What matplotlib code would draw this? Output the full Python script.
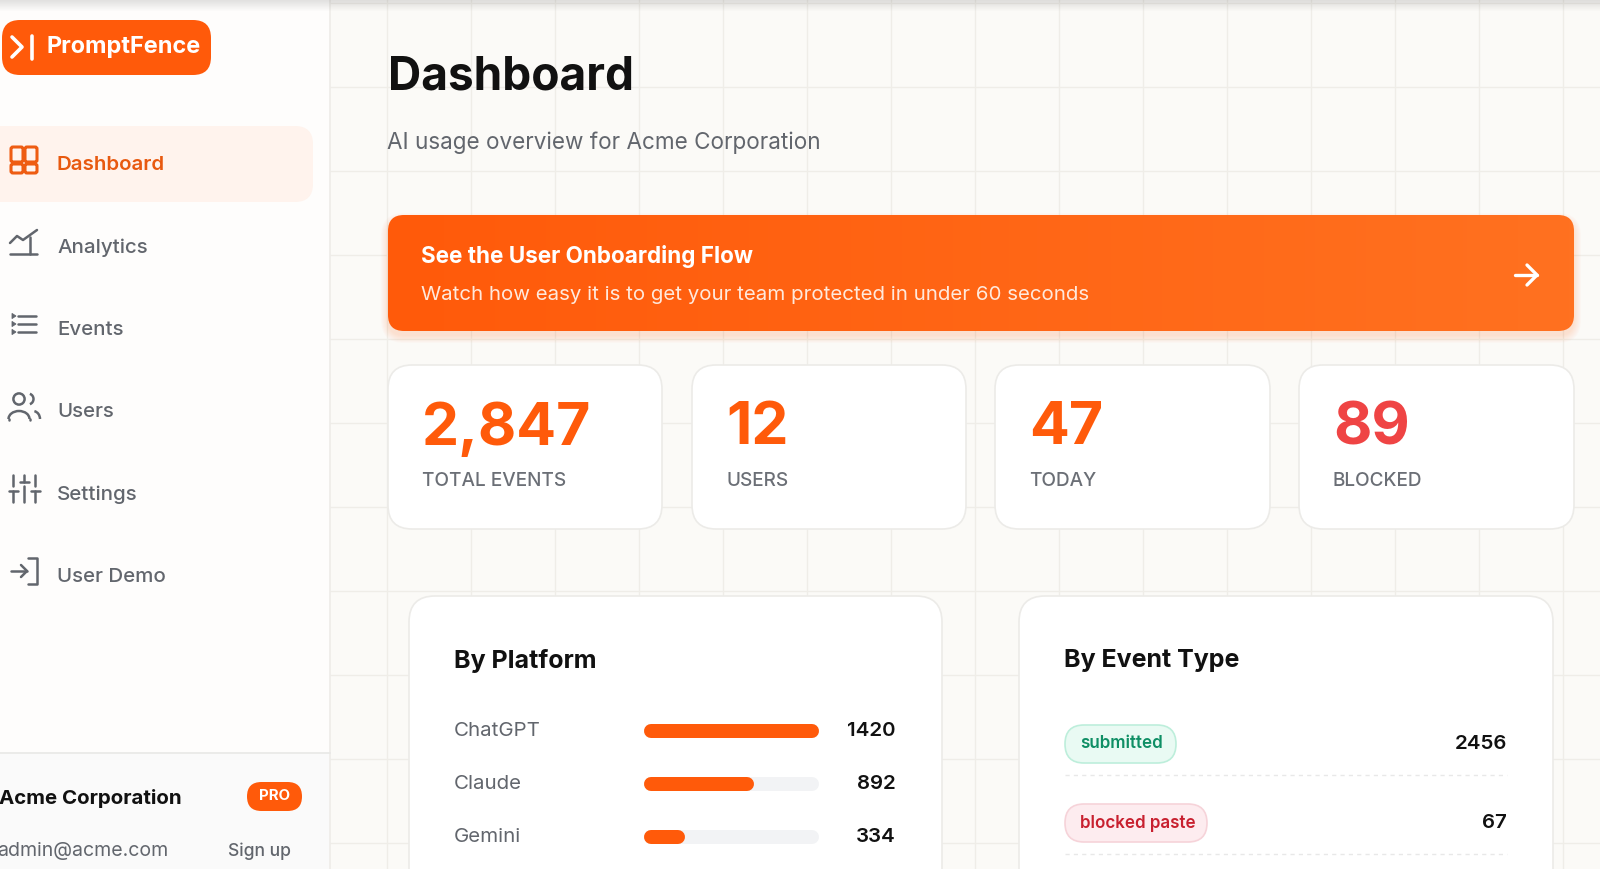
import numpy as np
import matplotlib
matplotlib.use("Agg")
import matplotlib.pyplot as plt
from matplotlib.patches import FancyBboxPatch, Circle, Arc, Polygon

plt.rcParams['font.family'] = ['Inter', 'DejaVu Sans']

# data
nav_items = ["Dashboard", "Analytics", "Events", "Users", "Settings", "User Demo"]
stat_values = ["2,847", "12", "47", "89"]
stat_labels = ["TOTAL EVENTS", "USERS", "TODAY", "BLOCKED"]
platforms = ["ChatGPT", "Claude", "Gemini"]
platform_counts = [1420, 892, 334]
event_types = ["submitted", "blocked paste"]
event_counts = [2456, 67]

ORANGE = "#ff5a0a"
GREY = "#62666d"

fig = plt.figure(figsize=(16, 8.69), dpi=100)
ax = fig.add_axes([0, 0, 1, 1])
ax.set_xlim(0, 1600)
ax.set_ylim(869, 0)
ax.axis("off")


def px(size):
    # css pixels to points
    return size * 0.72


def rbox(x0, y0, x1, y1, r, fc, ec="none", lw=1, z=2, alpha=None):
    p = FancyBboxPatch((x0, y0), x1 - x0, y1 - y0, boxstyle=f"round,pad=0,rounding_size={r}",
                       fc=fc, ec=ec, lw=lw, zorder=z, alpha=alpha)
    ax.add_patch(p)
    return p


def txt(x, y, s, size, color, weight="normal", ha="left"):
    ax.text(x, y, s, fontsize=px(size), color=color, fontweight=weight, ha=ha, va="center", zorder=6)


def line(xs, ys, color=GREY, lw=1.8):
    ax.plot(xs, ys, color=color, lw=lw, solid_capstyle="round", solid_joinstyle="round", zorder=6)


# page background and grid
ax.add_patch(plt.Rectangle((0, 0), 1600, 869, fc="#fbfaf7", ec="none", zorder=0))
for gx in np.arange(387, 1600, 84):
    ax.plot([gx, gx], [0, 869], color="#efedE8", lw=1, zorder=1)
for gy in np.arange(3, 869, 84):
    ax.plot([330, 1600], [gy, gy], color="#efedE8", lw=1, zorder=1)

# sidebar
ax.add_patch(plt.Rectangle((0, 0), 330, 869, fc="#fefdfc", ec="none", zorder=1.5))
ax.plot([330, 330], [0, 869], color="#eeece8", lw=1.2, zorder=2)
ax.add_patch(plt.Rectangle((0, 753), 330, 116, fc="#fafafa", ec="none", zorder=1.6))
ax.plot([0, 330], [753, 753], color="#e8e8e6", lw=1.2, zorder=2)

# browser shadow along the top edge
ax.imshow(np.linspace(0.16, 0, 12).reshape(-1, 1, 1) * np.array([[[0.0, 0.0, 0.0, 1.0]]]) + np.array([[[0.3, 0.3, 0.3, 0.0]]]),
          extent=(0, 1600, 12, 0), aspect="auto", zorder=5)
ax.set_xlim(0, 1600)
ax.set_ylim(869, 0)

# logo
rbox(2, 20, 211, 75, 18, ORANGE, z=3)
line([12, 22, 12], [37, 47, 57], "white", 2.6)
line([32, 32], [36, 59], "white", 2.6)
txt(46, 47, "PromptFence", 23.5, "white", "bold")

# nav
rbox(-30, 126, 313, 202, 18, "#fff3ed", z=2)
nav_y = [165, 248, 330, 412, 495, 577]
for i, (name, y) in enumerate(zip(nav_items, nav_y)):
    active = i == 0
    txt(57, y, name, 20.5, "#e8590f" if active else GREY, "semibold" if active else "medium")

# nav icons
for bx, by, bw, bh in [(11, 147, 12, 15), (25, 147, 12, 15), (11, 164, 12, 9), (25, 164, 12, 9)]:
    rbox(bx, by, bx + bw, by + bh, 2, "none", "#ee5c12", 2.2, z=6)
line([10, 37], [254, 254])
line([10, 17, 23, 37], [243, 236, 240, 230])
line([30, 30], [237, 254])
for yy in [316, 324, 332]:
    line([18, 36], [yy, yy])
    ax.add_patch(Polygon([(12, yy - 2.6), (12, yy + 2.6), (16, yy)], fc=GREY, ec=GREY, lw=0.6, zorder=6))
ax.add_patch(Circle((19, 399), 5.6, fc="none", ec=GREY, lw=1.8, zorder=6))
ax.add_patch(Arc((19, 419), 21, 16, theta1=180, theta2=360, ec=GREY, lw=1.8, zorder=6))
line([8.5, 8.5], [419, 420])
line([29.5, 29.5], [419, 420])
ax.add_patch(Arc((28, 399), 11, 11, theta1=-70, theta2=70, ec=GREY, lw=1.8, zorder=6))
ax.add_patch(Arc((33, 419), 14, 16, theta1=-80, theta2=0, ec=GREY, lw=1.8, zorder=6))
for cx, top_end, cross, bot_start in [(13, 486, 491, 491), (24, 482, 482, 486), (35, 486, 491, 491)]:
    line([cx, cx], [475, top_end])
    line([cx, cx], [bot_start, 502])
    line([cx - 4.5, cx + 4.5], [cross, cross])
line([11, 27], [571, 571])
line([21, 27, 21], [565, 571, 577])
line([28, 37, 37, 28], [558, 558, 584, 584])

# footer of sidebar
txt(-1, 798, "Acme Corporation", 20.5, "#111111", "bold")
rbox(247, 782, 302, 811, 14.5, ORANGE, z=3)
txt(274.5, 796.5, "PRO", 15, "white", "bold", ha="center")
txt(-3, 851, "admin@acme.com", 19.5, GREY)
txt(228, 851, "Sign up", 17.5, GREY, "medium")

# heading
txt(388, 78, "Dashboard", 46, "#111111", "bold")
txt(387, 143, "AI usage overview for Acme Corporation", 22.5, GREY)

# banner
for k in range(8):
    rbox(388 - k, 215 - k + 5, 1574 + k, 331 + k + 5, 16 + k, ORANGE, z=2, alpha=0.018)
banner = rbox(388, 215, 1574, 331, 16, "none", z=3)
grad = ax.imshow(np.linspace(0, 1, 256).reshape(1, -1), extent=(388, 1574, 331, 215), aspect="auto",
                 cmap=matplotlib.colors.LinearSegmentedColormap.from_list("b", [ORANGE, "#ff7120"]), zorder=3)
grad.set_clip_path(banner)
ax.set_xlim(0, 1600)
ax.set_ylim(869, 0)
txt(421, 256, "See the User Onboarding Flow", 22.5, "white", "bold")
txt(421, 295, "Watch how easy it is to get your team protected in under 60 seconds", 20.5, "#ffe9dc")
line([1515, 1537], [275, 275], "white", 2.4)
line([1527, 1537, 1527], [265, 275, 285], "white", 2.4)

# stat cards
card_x = [(388, 662), (692, 966), (995, 1270), (1299, 1574)]
for i, ((x0, x1), v, lab) in enumerate(zip(card_x, stat_values, stat_labels)):
    rbox(x0, 365, x1, 529, 24, "white", "#ecebe8", 1.2, z=3)
    txt(x0 + 34, 429, v, 59, "#ef4444" if i == 3 else ORANGE, "bold")
    txt(x0 + 34, 481, lab, 19, "#6b6f76", "medium")

# panels
for x0, x1, title in [(409, 942, "By Platform"), (1019, 1553, "By Event Type")]:
    rbox(x0, 596, x1, 920, 26, "white", "#ecebe8", 1.2, z=3)
    txt(x0 + 45, 661, title, 25, "#111111", "bold")

# platform bars, on their own axes scaled to the counts
row_y = [731 + 53 * i for i in range(len(platforms))]
bar_ax = fig.add_axes([644 / 1600, 1 - (row_y[-1] + 26.5) / 869, 174.5 / 1600, (row_y[-1] - row_y[0] + 53) / 869])
bar_ax.set_xlim(0, max(platform_counts))
bar_ax.set_ylim(len(platforms) - 0.5, -0.5)
bar_ax.axis("off")
cap = 7 * max(platform_counts) / 174.5
bar_pos = np.arange(len(platforms))
bar_ax.hlines(bar_pos, cap, max(platform_counts) - cap, color="#f2f3f5", lw=14 * 0.72, capstyle="round", clip_on=False)
bar_ax.hlines(bar_pos, cap, np.array(platform_counts) - cap, color=ORANGE, lw=14 * 0.72, capstyle="round", clip_on=False)
for name, n, y in zip(platforms, platform_counts, row_y):
    txt(454, y, name, 20.5, GREY)
    txt(896, y, str(n), 20.5, "#111111", "semibold", ha="right")

# event type rows
ev_y = [744, 823]
ev_w = [111, 142]
ev_style = [("#e9faf3", "#bdeedb", "#0f8f65"), ("#fdecef", "#f6d3d9", "#c8202f")]
for name, n, y, w, (fc, ec, tc) in zip(event_types, event_counts, ev_y, ev_w, ev_style):
    rbox(1065, y - 19, 1065 + w, y + 19, 19, fc, ec, 1.2, z=4)
    txt(1080, y, name, 17, tc, "semibold")
    txt(1507, y, str(n), 20.5, "#111111", "semibold", ha="right")
    ax.plot([1065, 1507], [y + 31, y + 31], color="#e8e8e8", lw=1, ls=(0, (3, 3)), zorder=4)

fig.savefig("out.png", dpi=100)
